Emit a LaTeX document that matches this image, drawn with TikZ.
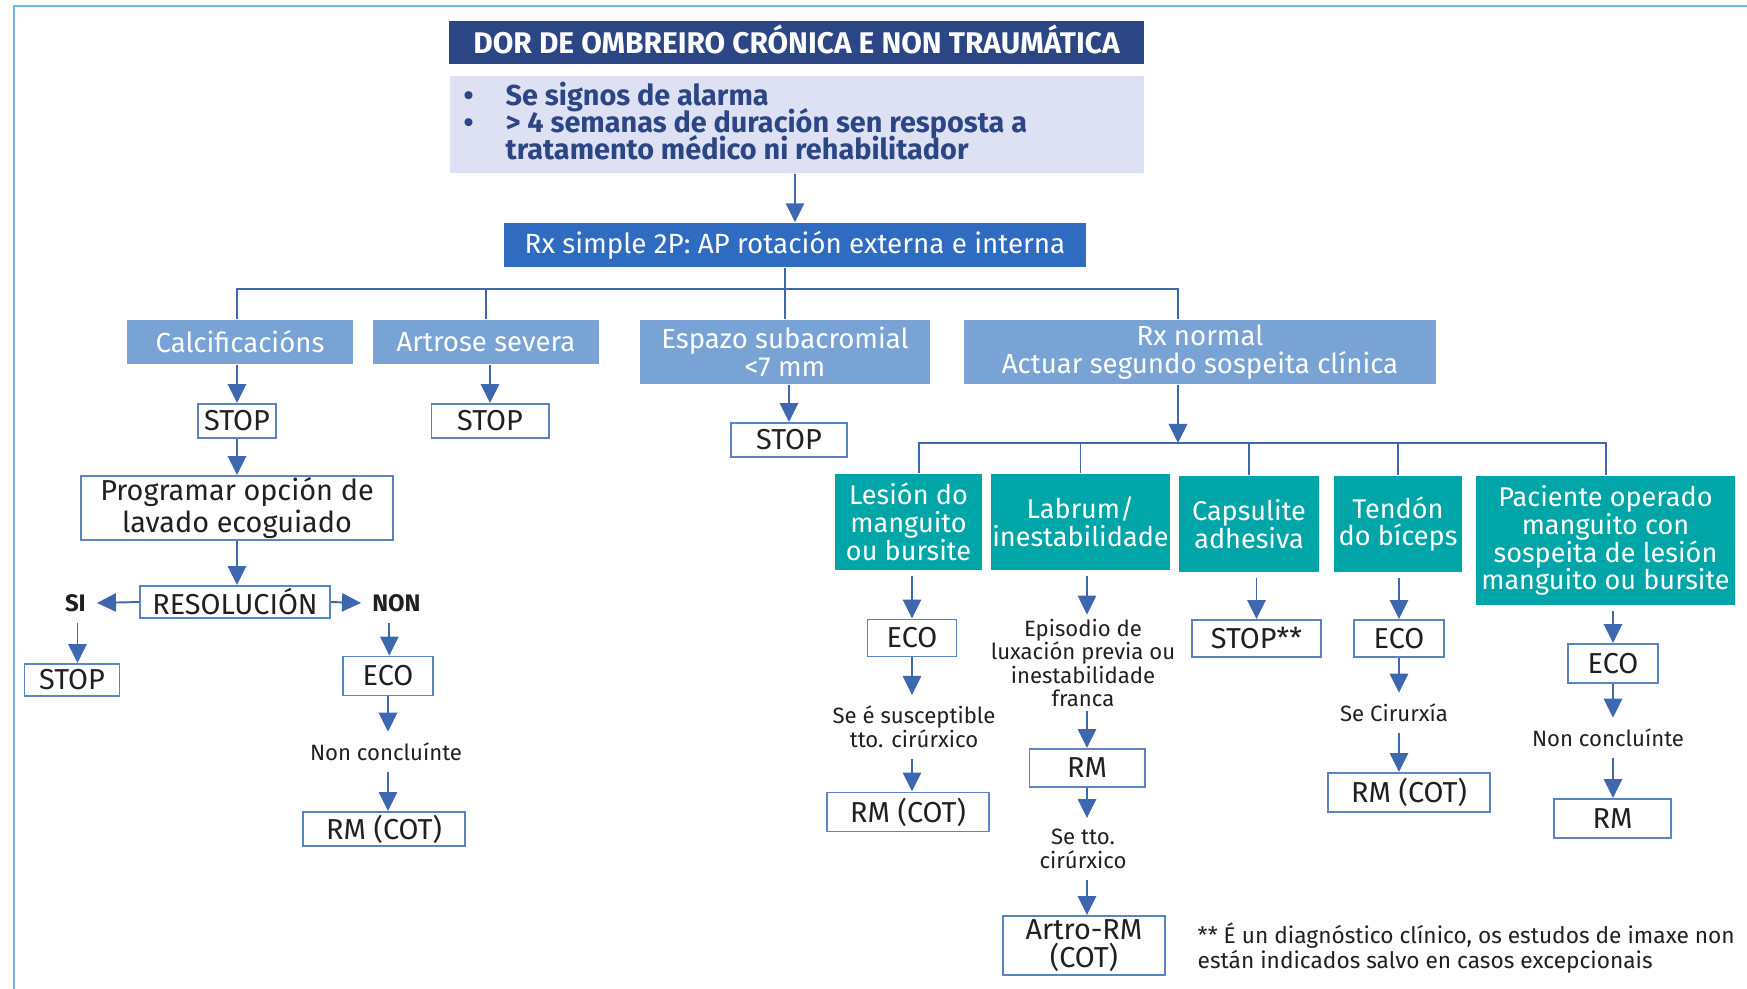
\documentclass[tikz,border=0pt]{standalone}
\usepackage{fontspec}
\setmainfont{Fira Sans}
\usetikzlibrary{arrows.meta}

\definecolor{navy}{HTML}{2C4584}
\definecolor{lavender}{HTML}{DDE1F3}
\definecolor{rxblue}{HTML}{2F6BC0}
\definecolor{steel}{HTML}{79A3D4}
\definecolor{tealbox}{HTML}{00A5A8}
\definecolor{bordc}{HTML}{5B84C4}
\definecolor{arrc}{HTML}{3D68AF}
\definecolor{framec}{HTML}{6CB9E6}
\definecolor{txt}{HTML}{231F20}

% keep the requested baseline distance even for tall lines
\newcommand\tightlines{\lineskiplimit=-5pt\relax}

\tikzset{
  boxtext/.style={align=center, inner sep=0pt},
  wbox/.style={boxtext, font=\fontsize{8.2}{8.1}\selectfont, draw=bordc, line width=0.55pt, fill=white, text=txt},
  sbox/.style={boxtext, font=\fontsize{7.85}{8.1}\selectfont, fill=steel, text=white},
  tbox/.style={boxtext, font=\fontsize{7.7}{7.9}\selectfont\tightlines, fill=tealbox, text=white},
  lbl/.style={font=\fontsize{6.3}{6.7}\selectfont, align=center, text=txt, inner xsep=1pt, inner ysep=3pt},
  yesno/.style={font=\bfseries\fontsize{6.8}{7}\selectfont, text=txt, inner sep=3pt},
  conn/.style={draw=arrc, line width=0.55pt},
  arr/.style={conn, -{Triangle[width=5.2pt,length=5.4pt]}},
}

\begin{document}
\begin{tikzpicture}[x=0.01cm, y=-0.01cm]
\useasboundingbox (0,0) rectangle (1747,989);

% page frame
\draw[framec, line width=0.65pt] (14,989) -- (14,6) -- (1747,6);

% header
\node[boxtext, fill=navy, text=white, font=\bfseries\fontsize{8.5}{8.5}\selectfont,
      text height=6pt, text depth=0pt,
      minimum width=6.95cm, minimum height=0.43cm] (title) at (796.5,42.5)
  {DOR DE OMBREIRO CRÓNICA E NON TRAUMÁTICA};
\node[fill=lavender, minimum width=6.94cm, minimum height=0.97cm, inner sep=0pt] (alarm) at (797,124.5) {};
\node[anchor=west, align=left, text=navy, inner sep=0pt,
      font=\bfseries\fontsize{8.2}{7.75}\selectfont\tightlines] (alarmtxt) at (505,121)
  {\llap{\textbullet\hspace{3.2mm}}Se signos de alarma\\
   \llap{\textbullet\hspace{3.2mm}}> 4 semanas de duración sen resposta a\\
   tratamento médico ni rehabilitador};

\node[boxtext, fill=rxblue, text=white, font=\fontsize{7.9}{8}\selectfont,
      minimum width=5.82cm, minimum height=0.44cm] (rx) at (795,245)
  {Rx simple 2P: AP rotación externa e interna};
\draw[arr] (alarm.south -| rx.north) -- (rx.north);

% first level findings
\node[sbox, minimum width=2.26cm, minimum height=0.44cm] (calc) at (240,342) {Calcificacións};
\node[sbox, minimum width=2.26cm, minimum height=0.44cm] (artr) at (486,342) {Artrose severa};
\node[sbox, minimum width=2.90cm, minimum height=0.64cm] (espa) at (785,352) {Espazo subacromial\\<7 mm};
\node[sbox, minimum width=4.72cm, minimum height=0.64cm] (rxn) at (1200,352) {Rx normal\\Actuar segundo sospeita clínica};

\coordinate (hubL) at (237,289);
\coordinate (hubR) at (1178,289);
\draw[conn] (rx.south -| espa.north) -- (espa.north);
\draw[conn] (calc.north -| hubL) |- (hubR) -- (hubR |- rxn.north);
\draw[conn] (artr.north) -- (artr.north |- hubL);

% STOP boxes of the first level
\node[wbox, minimum width=0.78cm, minimum height=0.34cm] (stopA) at (237,421) {STOP};
\node[wbox, minimum width=1.17cm, minimum height=0.34cm] (stopB) at (490,421) {STOP};
\node[wbox, minimum width=1.16cm, minimum height=0.34cm] (stopC) at (789,440) {STOP};
\draw[arr] (calc.south -| stopA.north) -- (stopA.north);
\draw[arr] (artr.south -| stopB.north) -- (stopB.north);
\draw[arr] (espa.south -| stopC.north) -- (stopC.north);

% calcification pathway
\node[wbox, minimum width=3.11cm, minimum height=0.64cm] (prog) at (237,508) {Programar opción de\\lavado ecoguiado};
\node[wbox, minimum width=1.89cm, minimum height=0.32cm] (reso) at (235,602) {RESOLUCIÓN};
\node[yesno, anchor=east] (si) at (97,603) {SI};
\node[yesno, anchor=west] (non) at (361,603) {NON};
\node[wbox, minimum width=0.95cm, minimum height=0.32cm] (stopD) at (72,680) {STOP};
\node[wbox, minimum width=0.90cm, minimum height=0.39cm] (ecoA) at (388,676) {ECO};
\node[lbl] (ncA) at (386,752) {Non concluínte};
\node[wbox, minimum width=1.62cm, minimum height=0.34cm] (rmA) at (384,829) {RM (COT)};

\draw[arr] (stopA) -- (prog);
\draw[arr] (prog.south) -- (prog.south |- reso.north);
\draw[arr] (reso.west) -- (si.east);
\draw[arr] (reso.east) -- (non.west);
\draw[arr] ([xshift=0.6pt]si.south) -- ([xshift=0.6pt]si.south |- stopD.north);
\draw[arr] ([xshift=-2pt]non.south) -- ([xshift=-2pt]non.south |- ecoA.north);
\draw[arr] (ecoA.south) -- (ecoA.south |- ncA.north);
\draw[arr] (ecoA.south |- ncA.south) -- (ecoA.south |- rmA.north);

% clinical suspicion branches
\coordinate (hubB) at (1178,443);
\draw[arr] (rxn.south -| hubB) -- (hubB);

\node[tbox, minimum width=1.47cm, minimum height=0.96cm] (lesi) at (908.5,522) {Lesión do\\manguito\\ou bursite};
\node[tbox, minimum width=1.79cm, minimum height=0.96cm] (labr) at (1080.5,522) {Labrum/\\inestabilidade};
\node[tbox, minimum width=1.40cm, minimum height=0.96cm] (caps) at (1249,524) {Capsulite\\adhesiva};
\node[tbox, minimum width=1.28cm, minimum height=0.96cm] (tend) at (1398,524) {Tendón\\do bíceps};
\node[tbox, minimum width=2.59cm, minimum height=1.29cm] (paci) at (1605.5,540.5) {Paciente operado\\manguito con\\sospeita de lesión\\manguito ou bursite};

\coordinate (dLes) at (919,443);
\coordinate (dPac) at (1606,443);
\draw[conn] (dLes |- lesi.north) -- (dLes) -- (dPac) -- (dPac |- paci.north);
\draw[conn] (labr.north) -- (labr.north |- hubB);
\draw[conn] (caps.north) -- (caps.north |- hubB);
\draw[conn] (tend.north) -- (tend.north |- hubB);

% rotator cuff lesion
\node[wbox, minimum width=0.89cm, minimum height=0.37cm] (ecoB) at (912,638) {ECO};
\node[lbl] (susc) at (914,727) {Se é susceptible\\tto. cirúrxico};
\node[wbox, minimum width=1.61cm, minimum height=0.39cm] (rmB) at (908,812) {RM (COT)};
\draw[arr, shorten <=1.5pt] (ecoB.north |- lesi.south) -- (ecoB.north);
\draw[arr] (ecoB.south) -- (ecoB.south |- susc.north);
\draw[arr] (ecoB.south |- susc.south) -- (ecoB.south |- rmB.north);

% labrum / instability
\node[lbl, inner ysep=1pt] (luxa) at (1083,663) {Episodio de\\luxación previa ou\\inestabilidade\\franca};
\node[wbox, minimum width=1.15cm, minimum height=0.38cm] (rmC) at (1087,768) {RM};
\node[lbl] (ttoC) at (1083,849) {Se tto.\\cirúrxico};
\node[wbox, minimum width=1.62cm, minimum height=0.59cm] (artro) at (1084,945.5) {Artro-RM\\(COT)};
\draw[arr, shorten <=1.5pt] (rmC.north |- labr.south) -- (rmC.north |- luxa.north);
\draw[arr] (rmC.north |- luxa.south) -- (rmC.north);
\draw[arr] (rmC.south) -- (rmC.south |- ttoC.north);
\draw[arr] (rmC.south |- ttoC.south) -- (rmC.south |- artro.north);

% adhesive capsulitis
\node[wbox, minimum width=1.29cm, minimum height=0.37cm] (stopE) at (1256.5,638.5) {STOP**};
\draw[arr, shorten <=1.5pt] (stopE.north |- caps.south) -- (stopE.north);

% biceps tendon
\node[wbox, minimum width=0.90cm, minimum height=0.37cm] (ecoC) at (1399,638.5) {ECO};
\node[lbl] (ciru) at (1394,713) {Se Cirurxía};
\node[wbox, minimum width=1.62cm, minimum height=0.39cm] (rmD) at (1409,792.5) {RM (COT)};
\draw[arr, shorten <=1.5pt] (ecoC.north |- tend.south) -- (ecoC.north);
\draw[arr] (ecoC.south) -- (ecoC.south |- ciru.north);
\draw[arr] (ecoC.south |- ciru.south) -- (ecoC.south |- rmD.north);

% operated patient
\node[wbox, minimum width=0.90cm, minimum height=0.39cm] (ecoD) at (1613,663.5) {ECO};
\node[lbl] (ncD) at (1608,738) {Non concluínte};
\node[wbox, minimum width=1.17cm, minimum height=0.39cm] (rmE) at (1612.5,818.5) {RM};
\draw[arr, shorten <=1.5pt] (ecoD.north |- paci.south) -- (ecoD.north);
\draw[arr] (ecoD.south) -- (ecoD.south |- ncD.north);
\draw[arr] (ecoD.south |- ncD.south) -- (ecoD.south |- rmE.north);

% footnote
\node[anchor=west, align=left, text=txt, font=\fontsize{6.45}{7}\selectfont, inner sep=0pt] (note) at (1197,948)
  {** É un diagnóstico clínico, os estudos de imaxe non\\están indicados salvo en casos excepcionais};
\end{tikzpicture}
\end{document}
